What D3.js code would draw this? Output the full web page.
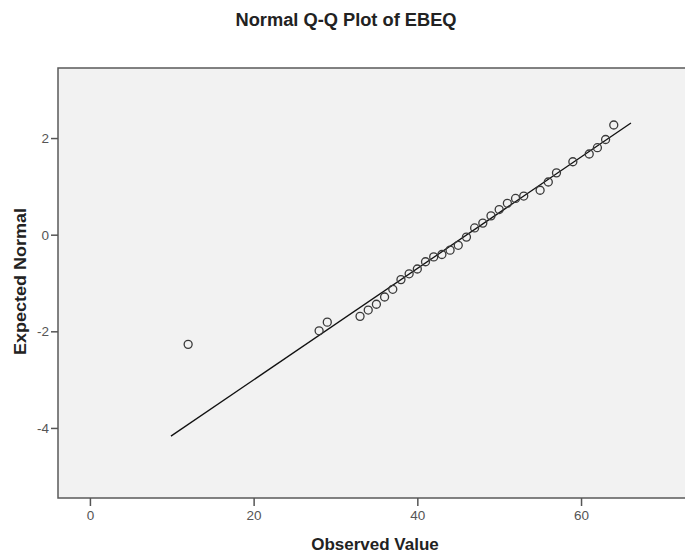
<!DOCTYPE html>
<html lang="en">
<head>
    <meta charset="UTF-8">
    <title>Normal Q-Q Plot of EBEQ</title>
    <script src="https://cdn.jsdelivr.net/npm/d3@7"></script>
    <style>
        * {
            margin: 0;
            padding: 0;
        }
        body {
            background: #fff;
        }
        svg {
            display: block;
            font-family: "Liberation Sans", Arial, sans-serif;
        }
        .axis path {
            display: none;
        }
        .axis line {
            stroke: #555;
            stroke-width: 1.5;
        }
        .axis text {
            fill: #555;
            font-size: 13.5px;
        }
    </style>
</head>
<body>
<script>
    const width = 685
    const height = 554

    // observed values and their expected normal quantiles
    const observed = [12, 28, 29, 33, 34, 35, 36, 37, 38, 39, 40, 41, 42, 43, 44, 45, 46,
        47, 48, 49, 50, 51, 52, 53, 55, 56, 57, 59, 61, 62, 63, 64]
    const expected = [-2.27, -1.99, -1.81, -1.69, -1.56, -1.44, -1.29, -1.13, -0.93, -0.81,
        -0.71, -0.56, -0.46, -0.41, -0.32, -0.22, -0.05, 0.14, 0.24, 0.39, 0.52, 0.65, 0.75,
        0.80, 0.92, 1.09, 1.28, 1.51, 1.67, 1.80, 1.97, 2.27]

    // reference line end points
    const lineX = [9.9, 66.1]
    const lineY = [-4.17, 2.31]

    const xTicks = [0, 20, 40, 60]
    const yTicks = [-4, -2, 0, 2]

    // plot box (right side runs off the picture)
    const box = { left: 58, top: 68, right: 712, bottom: 498 }

    const svg = d3.select('body')
        .append('svg')
        .attr('width', width)
        .attr('height', height)

    const xScale = d3.scaleLinear()
        .domain([-3.9, 76])
        .range([box.left, box.right])
    const yScale = d3.scaleLinear()
        .domain([-5.45, 3.45])
        .range([box.bottom, box.top])

    svg.append('rect')
        .attr('x', box.left)
        .attr('y', box.top)
        .attr('width', box.right - box.left)
        .attr('height', box.bottom - box.top)
        .attr('fill', '#f2f2f2')
        .attr('stroke', '#5a5a5a')
        .attr('stroke-width', 1.5)

    const xAxis = d3.axisBottom(xScale)
        .tickValues(xTicks)
        .tickFormat(d => String(d))
        .tickSize(8)
        .tickPadding(4)
    const yAxis = d3.axisLeft(yScale)
        .tickValues(yTicks)
        .tickFormat(d => String(d))
        .tickSize(7)
        .tickPadding(2)

    svg.append('g')
        .attr('class', 'axis')
        .attr('transform', 'translate(0,' + box.bottom + ')')
        .call(xAxis)

    svg.append('g')
        .attr('class', 'axis')
        .attr('transform', 'translate(' + box.left + ',0)')
        .call(yAxis)

    // fitted line
    svg.append('line')
        .attr('x1', xScale(lineX[0]))
        .attr('y1', yScale(lineY[0]))
        .attr('x2', xScale(lineX[1]))
        .attr('y2', yScale(lineY[1]))
        .attr('stroke', '#111')
        .attr('stroke-width', 1.3)

    svg.selectAll('.pt')
        .data(observed)
        .enter()
        .append('circle')
        .attr('class', 'pt')
        .attr('cx', d => xScale(d))
        .attr('cy', (d, i) => yScale(expected[i]))
        .attr('r', 4)
        .attr('fill', 'none')
        .attr('stroke', '#3a3a3a')
        .attr('stroke-width', 1.3)

    // titles
    svg.append('text')
        .attr('x', 346)
        .attr('y', 26)
        .attr('text-anchor', 'middle')
        .attr('font-size', 18)
        .attr('font-weight', 'bold')
        .attr('fill', '#222')
        .attr('textLength', 221)
        .attr('lengthAdjust', 'spacingAndGlyphs')
        .text('Normal Q-Q Plot of EBEQ')

    svg.append('text')
        .attr('x', 375)
        .attr('y', 550)
        .attr('text-anchor', 'middle')
        .attr('font-size', 17)
        .attr('font-weight', 'bold')
        .attr('fill', '#222')
        .text('Observed Value')

    svg.append('text')
        .attr('transform', 'translate(26,281.5) rotate(-90)')
        .attr('text-anchor', 'middle')
        .attr('font-size', 17)
        .attr('font-weight', 'bold')
        .attr('fill', '#222')
        .attr('textLength', 147)
        .attr('lengthAdjust', 'spacingAndGlyphs')
        .text('Expected Normal')
</script>
</body>
</html>
